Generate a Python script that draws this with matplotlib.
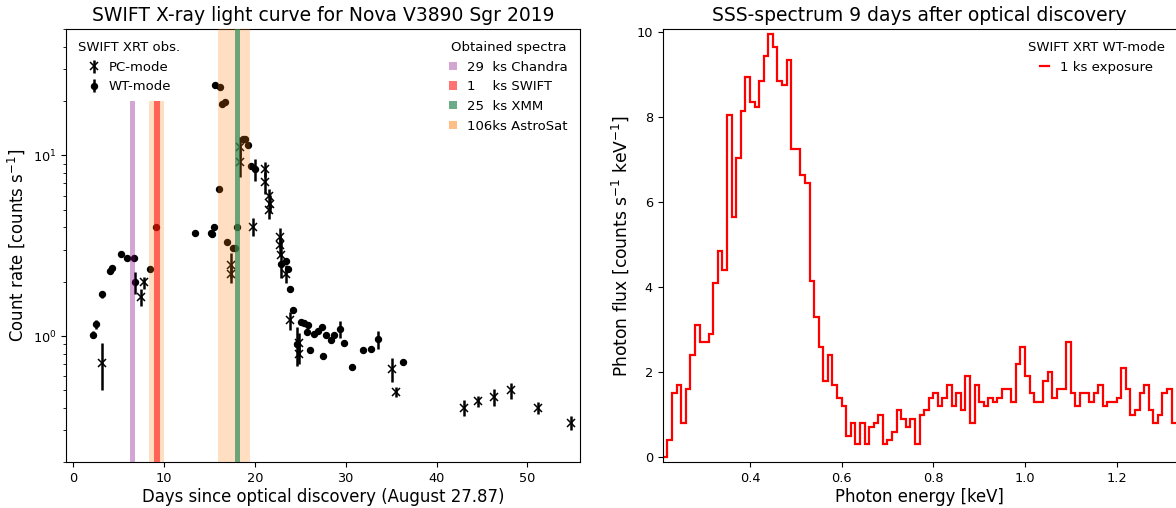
import numpy as np
import matplotlib
matplotlib.use("Agg")
import matplotlib.pyplot as plt
from matplotlib.patches import Patch
from matplotlib.lines import Line2D

# ---------------- Light curve data ----------------
# SWIFT XRT windowed-timing (WT) mode
wt_days = [2.17, 2.47, 3.2, 4.0, 4.3, 5.3, 5.95, 6.65, 6.8, 8.4, 9.15, 13.36,
           15.2, 15.3, 15.45, 15.6, 16.0, 16.2, 16.4, 16.7, 16.95, 17.6, 17.8,
           18.06, 18.7, 18.9, 19.2, 19.6, 20.0, 22.9, 23.4, 23.7, 23.9, 24.2,
           24.6, 25.1, 25.4, 25.8, 25.7, 26.1, 26.5, 27.0, 27.4, 27.5, 27.8,
           28.4, 28.7, 29.4, 29.8, 30.7, 31.9, 32.8, 33.6, 36.3]
wt_rate = [1.02, 1.16, 1.70, 2.28, 2.39, 2.85, 2.72, 2.72, 1.99, 2.34, 4.02, 3.74,
           3.74, 3.66, 4.04, 24.5, 6.53, 23.9, 19.3, 19.9, 3.32, 3.09, 3.09,
           4.0, 12.3, 12.3, 11.5, 8.8, 8.4, 2.50, 2.59, 2.35, 1.83, 1.39,
           0.90, 1.20, 1.18, 1.15, 1.05, 0.84, 1.03, 1.07, 1.12, 0.78, 1.02,
           0.955, 1.02, 1.09, 0.92, 0.67, 0.84, 0.85, 0.96, 0.72]
wt_err = [0.04, 0.06, 0.08, 0.06, 0.06, 0.05, 0.05, 0.05, 0.28, 0.05, 0.08, 0.07,
          0.07, 0.07, 0.08, 0.4, 0.12, 0.4, 0.35, 0.35, 0.06, 0.06, 0.06,
          0.08, 0.4, 0.3, 0.4, 0.25, 1.15, 0.06, 0.06, 0.06, 0.05, 0.04,
          0.22, 0.03, 0.03, 0.03, 0.03, 0.03, 0.03, 0.03, 0.04, 0.03, 0.03,
          0.03, 0.03, 0.12, 0.03, 0.02, 0.02, 0.02, 0.11, 0.03]

# SWIFT XRT photon-counting (PC) mode
pc_days = [3.2, 7.5, 7.8, 17.4, 17.4, 18.4, 18.4, 19.8, 21.1, 21.1, 21.55, 21.65,
           21.6, 22.8, 22.8, 22.9, 23.4, 23.9, 24.85, 24.9, 35.1, 35.5, 43.0,
           44.55, 46.3, 48.25, 51.2, 54.8]
pc_rate = [0.71, 1.64, 1.98, 2.49, 2.22, 11.2, 9.2, 4.04, 8.4, 7.1, 5.95, 5.42,
           4.98, 3.52, 3.18, 2.80, 2.22, 1.22, 0.91, 0.80, 0.66, 0.49, 0.40,
           0.435, 0.46, 0.50, 0.40, 0.33]
pc_err = [0.21, 0.18, 0.15, 0.4, 0.25, 1.5, 1.6, 0.45, 0.8, 1.0, 0.6, 0.6,
          0.55, 0.45, 0.4, 0.7, 0.25, 0.14, 0.13, 0.10, 0.10, 0.03, 0.04,
          0.03, 0.05, 0.05, 0.03, 0.03]

# Spectroscopic observations (start, end in days) and labels
spec_labels = ["29  ks Chandra", "1    ks SWIFT", "25  ks XMM", "106ks AstroSat"]
chandra_span = (6.28, 6.79)
swift_span = (8.88, 9.51)
xmm_span = (17.8, 18.4)
astrosat_spans = [(8.3, 10.03), (15.97, 19.45)]

# ---------------- Spectrum data ----------------
spec_e_start = 0.21      # keV, lower edge of first channel
spec_binwidth = 0.01     # keV
spec_flux = [0.0, 0.4, 1.5, 1.7, 0.8, 1.6, 2.4, 3.1, 2.7, 2.7, 2.9, 4.1, 4.85, 4.4,
             8.05, 5.65, 7.05, 8.15, 8.95, 8.35, 8.25, 8.85, 9.45, 9.95, 9.65,
             8.85, 8.75, 9.35, 7.25, 7.25, 6.65, 6.45, 4.15, 3.3, 2.6, 1.8, 2.4,
             1.7, 1.4, 1.2, 0.5, 0.8, 0.3, 0.8, 0.3, 0.7, 0.8, 1.0, 0.3, 0.4,
             0.6, 1.1, 0.9, 0.7, 0.9, 0.3, 1.0, 1.1, 1.4, 1.5, 1.2, 1.4, 1.7,
             1.2, 1.5, 1.1, 1.9, 0.8, 1.7, 1.3, 1.2, 1.4, 1.3, 1.4, 1.6, 1.6,
             1.3, 2.2, 2.6, 1.9, 1.5, 1.3, 1.3, 1.8, 2.0, 1.4, 1.6, 1.6, 2.7,
             1.5, 1.2, 1.5, 1.5, 1.3, 1.5, 1.7, 1.2, 1.3, 1.3, 1.4, 2.1, 1.6,
             1.0, 1.1, 1.5, 1.7, 1.1, 0.8, 1.0, 1.5, 1.6, 0.8]

PURPLE, RED, GREEN, ORANGE = 'purple', 'red', 'seagreen', 'tab:orange'

fig = plt.figure(figsize=(11.76, 5.08), dpi=100)
ax1 = fig.add_axes([0.0561, 0.0900, 0.4371, 0.8524])
ax2 = fig.add_axes([0.5635, 0.0900, 0.4371, 0.8524])

# ---- Left panel: light curve ----
h_pc = ax1.errorbar(pc_days, pc_rate, yerr=pc_err, fmt='x', color='black', ms=6,
                    mew=1.1, elinewidth=1.8, capsize=0, zorder=2)
h_wt = ax1.errorbar(wt_days, wt_rate, yerr=wt_err, fmt='o', color='black', ms=4.3,
                    elinewidth=1.8, capsize=0, zorder=2)

part = 0.834
ax1.axvspan(*chandra_span, ymax=part, color=PURPLE, alpha=0.35, lw=0, zorder=3)
ax1.axvspan(*astrosat_spans[0], ymax=part, color=ORANGE, alpha=0.25, lw=0, zorder=3)
ax1.axvspan(*swift_span, ymax=part, color=RED, alpha=0.55, lw=0, zorder=3)
ax1.axvspan(*astrosat_spans[1], color=ORANGE, alpha=0.25, lw=0, zorder=3)
ax1.axvspan(*xmm_span, color=GREEN, alpha=0.7, lw=0, zorder=3)

ax1.set_yscale('log')
ax1.set_ylim(0.2, 50)
ax1.set_xlim(-0.8, 55.8)
ax1.set_xticks([0, 10, 20, 30, 40, 50])
ax1.set_title("SWIFT X-ray light curve for Nova V3890 Sgr 2019", fontsize=13.5)
ax1.set_xlabel("Days since optical discovery (August 27.87)", fontsize=11.9,
               labelpad=2)
ax1.set_ylabel(r"Count rate [counts s$^{-1}$]", fontsize=11.9)
ax1.tick_params(labelsize=9.3)

leg1 = ax1.legend([h_pc, h_wt], ["PC-mode", "WT-mode"], title="SWIFT XRT obs.",
                  loc='upper left', frameon=False, fontsize=9.5,
                  title_fontsize=9.5, handlelength=1.2, handletextpad=0.5)
ax1.add_artist(leg1)

spec_handles = [Patch(color=PURPLE, alpha=0.35, lw=0),
                Patch(color=RED, alpha=0.55, lw=0),
                Patch(color=GREEN, alpha=0.7, lw=0),
                Patch(color=ORANGE, alpha=0.5, lw=0)]
ax1.legend(spec_handles, spec_labels, title="Obtained spectra", loc='upper right',
           frameon=False, fontsize=9.5, title_fontsize=9.5,
           handlelength=0.6, handleheight=0.6, handletextpad=0.8)

# ---- Right panel: spectrum ----
edges = spec_e_start + spec_binwidth * np.arange(len(spec_flux) + 1)
ax2.stairs(spec_flux, edges, color='red', lw=1.6, baseline=None)
ax2.set_xlim(0.2096, 1.331)
ax2.set_ylim(-0.12, 10.07)
ax2.set_xticks([0.4, 0.6, 0.8, 1.0, 1.2])
ax2.set_title("SSS-spectrum 9 days after optical discovery", fontsize=13.5)
ax2.set_xlabel("Photon energy [keV]", fontsize=11.9, labelpad=2)
ax2.set_ylabel(r"Photon flux [counts s$^{-1}$ keV$^{-1}$]", fontsize=12.3)
ax2.tick_params(labelsize=9.3)
ax2.legend([Line2D([], [], color='red', lw=1.6)], ["1 ks exposure"],
           title="SWIFT XRT WT-mode", loc='upper right', frameon=False,
           fontsize=9.5, title_fontsize=9.5, handlelength=0.7)

fig.savefig("out.png", dpi=100)
